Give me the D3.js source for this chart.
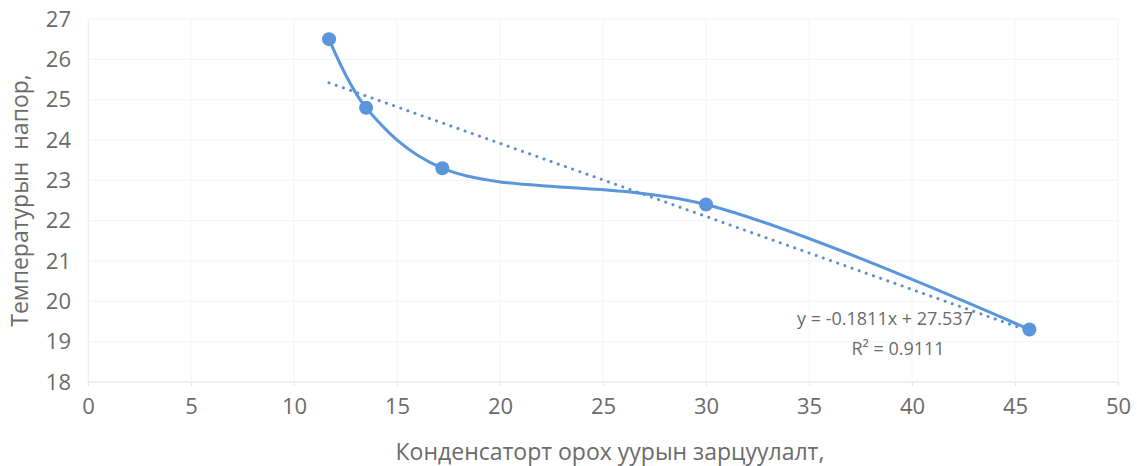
<!DOCTYPE html>
<html>
<head>
<meta charset="utf-8">
<script src="https://cdn.jsdelivr.net/npm/d3@7"></script>
<style>
  html, body { margin: 0; padding: 0; background: #fff; }
  svg { display: block; }
  text { font-family: "Open Sans", "DejaVu Sans", sans-serif; fill: #6b6b6b; }
</style>
</head>
<body>
<svg id="chart" width="1137" height="466"></svg>
<script>
// Steam flow through the condenser vs. temperature head
const flowValues = [11.7, 13.5, 17.2, 30, 45.7];
const headValues = [26.5, 24.8, 23.3, 22.4, 19.3];
const xTickValues = [0, 5, 10, 15, 20, 25, 30, 35, 40, 45, 50];
const yTickValues = [18, 19, 20, 21, 22, 23, 24, 25, 26, 27];
const xTitle = "Конденсаторт орох уурын зарцуулалт,";
const yTitle = "Температурын  напор,";

const svg = d3.select("#chart");
const margin = { left: 88, right: 19, top: 19, bottom: 84 };
const W = 1137, H = 466;

const x = d3.scaleLinear().domain([0, 50]).range([margin.left, W - margin.right]);
const y = d3.scaleLinear().domain([18, 27]).range([H - margin.bottom, margin.top]);

// faint gridlines
const grid = svg.append("g");
grid.selectAll("line.h").data(yTickValues).join("line")
  .attr("x1", x(0)).attr("x2", x(50))
  .attr("y1", d => y(d)).attr("y2", d => y(d))
  .attr("stroke", d => d === 18 ? "#dedede" : "#f3f3f3").attr("stroke-width", 1);
grid.selectAll("line.v").data(xTickValues).join("line")
  .attr("y1", y(18)).attr("y2", y(27))
  .attr("x1", d => x(d)).attr("x2", d => x(d))
  .attr("stroke", "#f5f5f5").attr("stroke-width", 1);

// axes
const xAxis = svg.append("g").attr("transform", `translate(0,${y(18)})`)
  .call(d3.axisBottom(x).tickValues(xTickValues).tickSize(4).tickPadding(12));
xAxis.select(".domain").remove();
xAxis.selectAll("line").attr("stroke", "#e2e2e2");
xAxis.selectAll("text").style("font-size", "22px").attr("fill", "#6b6b6b");

const yAxis = svg.append("g").attr("transform", `translate(${x(0)},0)`)
  .call(d3.axisLeft(y).tickValues(yTickValues).tickSize(0).tickPadding(17));
yAxis.select(".domain").attr("stroke", "#eeeeee");
yAxis.selectAll("text").style("font-size", "22px").attr("fill", "#6b6b6b");

// axis titles
svg.append("text")
  .attr("x", 610).attr("y", 460)
  .attr("text-anchor", "middle")
  .style("font-size", "23px")
  .text(xTitle);
svg.append("text")
  .attr("transform", `translate(28,${(y(18) + y(27)) / 2}) rotate(-90)`)
  .attr("text-anchor", "middle")
  .style("font-size", "23px")
  .style("white-space", "pre")
  .text(yTitle);

const pts = flowValues.map((v, i) => [v, headValues[i]]);

// linear least-squares trendline
const mx = d3.mean(flowValues), my = d3.mean(headValues);
const sxy = d3.sum(pts, p => (p[0] - mx) * (p[1] - my));
const sxx = d3.sum(pts, p => (p[0] - mx) ** 2);
const slope = sxy / sxx, intercept = my - slope * mx;
const ssTot = d3.sum(headValues, v => (v - my) ** 2);
const ssRes = d3.sum(pts, p => (p[1] - (slope * p[0] + intercept)) ** 2);
const r2 = 1 - ssRes / ssTot;

const x0 = d3.min(flowValues), x1 = d3.max(flowValues);
svg.append("line")
  .attr("x1", x(x0)).attr("y1", y(slope * x0 + intercept))
  .attr("x2", x(x1)).attr("y2", y(slope * x1 + intercept))
  .attr("stroke", "#5b8fd0").attr("stroke-width", 3)
  .attr("stroke-dasharray", "0.1 7.5").attr("stroke-linecap", "round");

// smoothed series line
const line = d3.line().x(d => x(d[0])).y(d => y(d[1])).curve(d3.curveCatmullRom.alpha(0.5));
svg.append("path").datum(pts)
  .attr("d", line)
  .attr("fill", "none").attr("stroke", "#5b95dc").attr("stroke-width", 3);

svg.selectAll("circle.pt").data(pts).join("circle")
  .attr("cx", d => x(d[0])).attr("cy", d => y(d[1])).attr("r", 7)
  .attr("fill", "#5b95dc");

// equation label
const eq = svg.append("text").attr("text-anchor", "middle").style("font-size", "18px");
eq.append("tspan").attr("x", 885).attr("y", 325)
  .text(`y = ${slope.toFixed(4)}x + ${intercept.toFixed(3)}`);
eq.append("tspan").attr("x", 898).attr("y", 355)
  .text(`R² = ${r2.toFixed(4)}`);
</script>
</body>
</html>
